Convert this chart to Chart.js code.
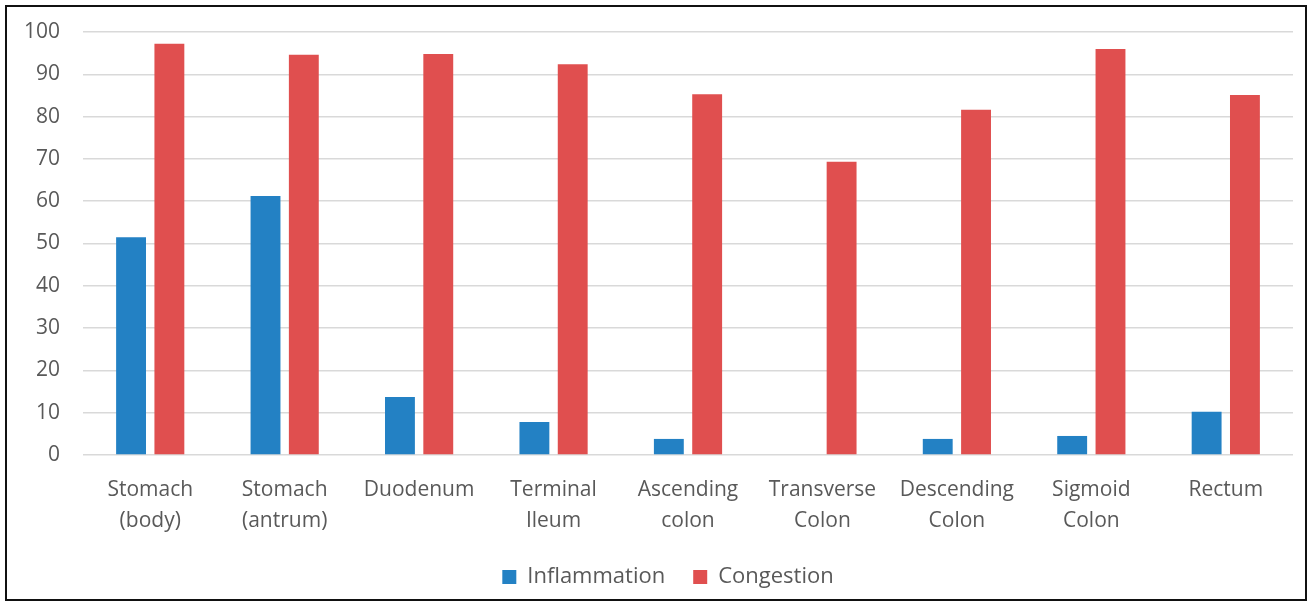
<!DOCTYPE html>
<html>
<head>
<meta charset="utf-8">
<script src="https://cdn.jsdelivr.net/npm/chart.js@4"></script>
<style>
  body { margin: 0; background: #fff; }
  .box { position: absolute; left: 5px; top: 5px; width: 1302px; height: 596px; border: 2px solid #111; box-sizing: border-box; background: #fff; overflow: hidden; }
</style>
</head>
<body>
<div class="box"><canvas id="gutChart" width="1298" height="591"></canvas></div>
<script>
const regions = [['Stomach', '(body)'], ['Stomach', '(antrum)'], 'Duodenum', ['Terminal', 'Ileum'],
    ['Ascending', 'colon'], ['Transverse', 'Colon'], ['Descending', 'Colon'], ['Sigmoid', 'Colon'], 'Rectum'];
const inflammation = [51.5, 61.2, 13.7, 7.8, 3.8, 0, 3.8, 4.5, 10.2];
const congestion = [97.2, 94.6, 94.8, 92.4, 85.3, 69.3, 81.6, 96.0, 85.1];
const yTicks = [0, 10, 20, 30, 40, 50, 60, 70, 80, 90, 100];

Chart.defaults.font.family = '"Open Sans", sans-serif';
Chart.defaults.color = '#595959';

// nudge the legend a little right so it sits under the plot centre
const legendShift = {
    id: 'legendShift',
    afterLayout(chart) {
        chart.legend.left += 18;
        chart.legend.right += 18;
    }
};

const ctx = document.getElementById('gutChart').getContext('2d');
const gutChart = new Chart(ctx, {
    type: 'bar',
    data: {
        labels: regions,
        datasets: [{
            label: 'Inflammation',
            data: inflammation,
            backgroundColor: '#2381c4'
        }, {
            label: 'Congestion',
            data: congestion,
            backgroundColor: '#e04f4f'
        }]
    },
    options: {
        responsive: false,
        animation: false,
        categoryPercentage: 0.57,
        barPercentage: 0.78,
        layout: { padding: { top: 25, right: 12, left: 0, bottom: 0 } },
        plugins: {
            tooltip: { enabled: false },
            legend: {
                position: 'bottom',
                labels: { font: { size: 22 }, boxWidth: 14, boxHeight: 14, padding: 28 }
            }
        },
        scales: {
            x: {
                grid: { display: false },
                border: { display: false },
                afterFit: s => { s.height = 83; },
                ticks: { font: { size: 21, lineHeight: 1.5 }, maxRotation: 0, padding: 11 }
            },
            y: {
                min: 0,
                max: 100,
                afterBuildTicks: s => { s.ticks = yTicks.map(v => ({ value: v })); },
                afterFit: s => { s.width = 76; s.paddingTop = 0; s.paddingBottom = 0; },
                grid: { color: '#d9d9d9', lineWidth: 1.5, drawTicks: false },
                border: { display: false },
                ticks: { font: { size: 21 }, padding: 23 }
            }
        }
    },
    plugins: [legendShift]
});
</script>
</body>
</html>
